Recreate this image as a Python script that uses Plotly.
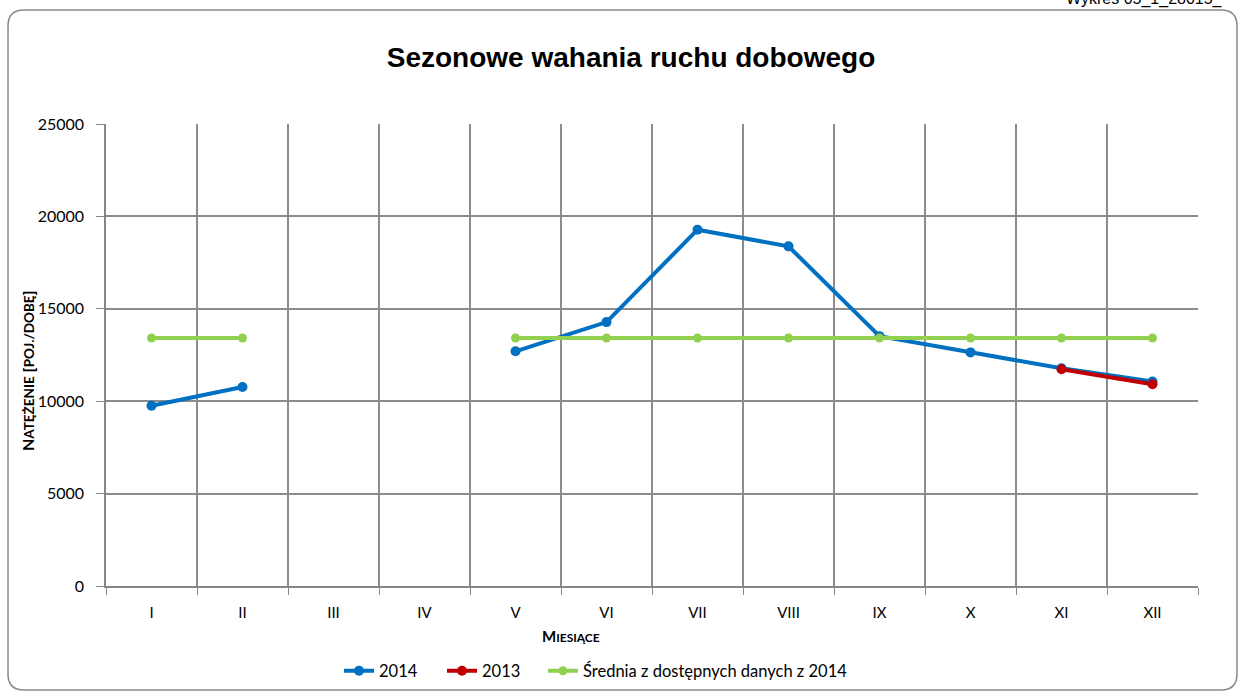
import plotly.graph_objects as go

months = ["I", "II", "III", "IV", "V", "VI", "VII", "VIII", "IX", "X", "XI", "XII"]
v2014 = [9750, 10770, None, None, 12700, 14280, 19280, 18380, 13520, 12640, 11780, 11070]
v2013 = [None, None, None, None, None, None, None, None, None, None, 11730, 10920]
avg2014 = [13420, 13420, None, None, 13420, 13420, 13420, 13420, 13420, 13420, 13420, 13420]

W, H = 1245, 695
L, R, T, B = 106, 1198, 124, 586
pw, ph = R - L, B - T

def px(x):
    return (x - L) / pw

def py(y):
    return (B - y) / ph

xs = list(range(1, 13))
fig = go.Figure()
fig.add_trace(go.Scatter(x=xs, y=v2014, name="2014", mode="lines+markers", legend="legend",
                         line=dict(color="#0070C0", width=4), marker=dict(size=10, color="#0070C0")))
fig.add_trace(go.Scatter(x=xs, y=v2013, name="2013", mode="lines+markers", legend="legend2",
                         line=dict(color="#C00000", width=4), marker=dict(size=10, color="#C00000")))
fig.add_trace(go.Scatter(x=xs, y=avg2014, name="Średnia z dostępnych danych z 2014", mode="lines+markers",
                         legend="legend3",
                         line=dict(color="#92D050", width=4), marker=dict(size=9, color="#92D050")))

# rounded border
x0, x1, y0, y1 = 8, 1237, 10, 690
r = 16
def P(x, y):
    return f"{px(x):.5f},{py(y):.5f}"
path = (f"M {P(x0 + r, y0)} L {P(x1 - r, y0)} Q {P(x1, y0)} {P(x1, y0 + r)} "
        f"L {P(x1, y1 - r)} Q {P(x1, y1)} {P(x1 - r, y1)} "
        f"L {P(x0 + r, y1)} Q {P(x0, y1)} {P(x0, y1 - r)} "
        f"L {P(x0, y0 + r)} Q {P(x0, y0)} {P(x0 + r, y0)} Z")

font_main = "Lato"

def leg(xstart):
    return dict(orientation="h", x=px(xstart - 6), xanchor="left", y=py(671), yanchor="middle",
                font=dict(size=16.5, family=font_main), bgcolor="rgba(0,0,0,0)")

fig.update_layout(
    width=W, height=H,
    margin=dict(l=L, r=W - R, t=T, b=H - B, autoexpand=False),
    paper_bgcolor="white", plot_bgcolor="white",
    font=dict(family=font_main, size=15, color="#000000"),
    title=dict(text="<b>Sezonowe wahania ruchu dobowego</b>", x=631 / W, xanchor="center",
               y=1 - 57 / H, yanchor="middle",
               font=dict(family="Liberation Sans", size=28, color="#000")),
    showlegend=True,
    legend=leg(345), legend2=leg(448), legend3=leg(549),
    xaxis=dict(range=[0.5, 12.5], tickmode="array", tickvals=xs, ticktext=months,
               showgrid=False, ticks="", showline=True, linecolor="#868686", linewidth=1.5,
               tickfont=dict(size=15, family=font_main), zeroline=False, automargin=False,
               ticklabelstandoff=12,
               minor=dict(tickmode="linear", tick0=0.5, dtick=1, showgrid=True,
                          gridcolor="#8c8c8c", gridwidth=1.5, ticks="outside", ticklen=7,
                          tickcolor="#868686")),
    yaxis=dict(range=[0, 25000], tickmode="linear", tick0=0, dtick=5000, tickformat="d",
               showgrid=True, gridcolor="#8c8c8c", gridwidth=1.5,
               ticks="outside", ticklen=8, tickcolor="#868686", automargin=False,
               showline=True, linecolor="#868686", linewidth=1.5, zeroline=False,
               tickfont=dict(size=16, family=font_main), ticklabelstandoff=9),
    shapes=[dict(type="path", xref="paper", yref="paper", path=path,
                 line=dict(color="#8a8a8a", width=1.5), fillcolor="rgba(0,0,0,0)", layer="below")],
    annotations=[
        dict(text="Wykres 05_1_28015_", xref="paper", yref="paper",
             x=px(1064), y=py(-1), xanchor="left", yanchor="middle", showarrow=False,
             font=dict(family="Liberation Sans", size=16, color="#000")),
        dict(text="<b>M<span style='font-size:12px'>IESIĄCE</span></b>", xref="paper", yref="paper",
             x=px(571), y=py(636), xanchor="center", yanchor="middle", showarrow=False,
             font=dict(family=font_main, size=15, color="#000")),
        dict(text="<b>N<span style='font-size:13.5px'>ATĘŻENIE</span> [<span style='font-size:13.5px'>POJ./DOBĘ</span>]</b>",
             xref="paper", yref="paper", x=px(27), y=py(370), xanchor="center", yanchor="middle",
             textangle=-90, showarrow=False, font=dict(family=font_main, size=16, color="#000")),
    ],
)

fig.write_html("out.html", config={"displayModeBar": False},
               post_script="document.body.style.margin='0';document.body.style.overflow='hidden';")
